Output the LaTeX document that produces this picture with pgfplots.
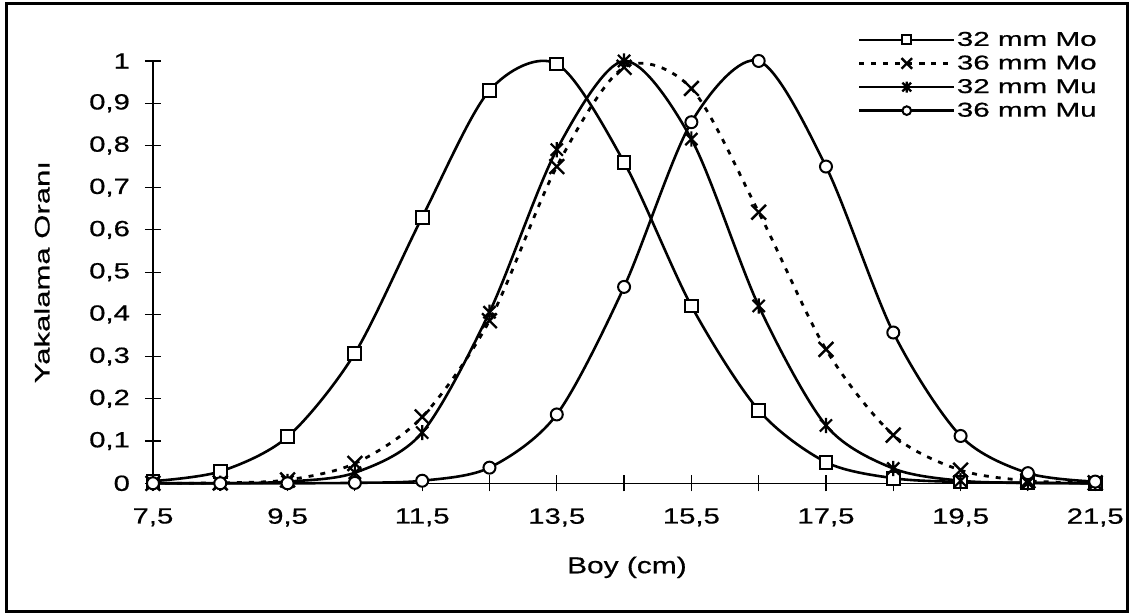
\documentclass[border=0pt]{standalone}
\usepackage{fontspec}
\usepackage{graphicx}
\setmainfont{Liberation Sans}
\newfontfamily\tickfont[FakeStretch=1.33, FakeBold=0.6]{Liberation Sans}
\newfontfamily\labfont[FakeStretch=1.3, FakeBold=0.6]{Liberation Sans}
\newfontfamily\ylabfont[FakeStretch=1.48, FakeBold=0.6]{Liberation Sans}
\newfontfamily\legbase[FakeBold=0.6]{Liberation Sans}
\newcommand{\legtxt}[1]{\scalebox{1.48}[1]{#1}}
\usepackage{pgfplots}
\pgfplotsset{compat=1.18}
\pgfdeclareplotmark{xstar}{%
  \pgfpathmoveto{\pgfqpoint{0pt}{\pgfplotmarksize}}%
  \pgfpathlineto{\pgfqpoint{0pt}{-\pgfplotmarksize}}%
  \pgfpathmoveto{\pgfqpoint{-.8\pgfplotmarksize}{-.8\pgfplotmarksize}}%
  \pgfpathlineto{\pgfqpoint{.8\pgfplotmarksize}{.8\pgfplotmarksize}}%
  \pgfpathmoveto{\pgfqpoint{-.8\pgfplotmarksize}{.8\pgfplotmarksize}}%
  \pgfpathlineto{\pgfqpoint{.8\pgfplotmarksize}{-.8\pgfplotmarksize}}%
  \pgfusepathqstroke}
\begin{document}
\begin{tikzpicture}
\begin{axis}[
  x=33.65pt, y=211.15pt,
  xmin=7.5, xmax=21.5, ymin=0, ymax=1,
  axis x line=bottom, axis y line=left,
  axis line style={-, line width=0.6pt},
  clip=false,
  tick align=center, major tick length=8pt,
  tick style={black, line width=0.6pt},
  xtick={7.5,8.5,9.5,10.5,11.5,12.5,13.5,14.5,15.5,16.5,17.5,18.5,19.5,20.5,21.5},
  xticklabels={{7,5},{},{9,5},{},{11,5},{},{13,5},{},{15,5},{},{17,5},{},{19,5},{},{21,5}},
  ytick={0,0.1,0.2,0.3,0.4,0.5,0.6,0.7,0.8,0.9,1},
  yticklabels={{0},{0,1},{0,2},{0,3},{0,4},{0,5},{0,6},{0,7},{0,8},{0,9},{1}},
  ticklabel style={font=\tickfont\fontsize{11}{13}\selectfont},
  xticklabel style={yshift=-5pt},
  yticklabel style={xshift=-4pt},
  xlabel={Boy (cm)},
  ylabel={Yakalama Oranı},
  xlabel style={at={(axis description cs:0.503,-0.199)}, anchor=center, font=\labfont\fontsize{11.5}{13}\selectfont},
  ylabel style={at={(axis description cs:-0.1178,0.5)}, anchor=center, font=\ylabfont\fontsize{10.5}{12}\selectfont},
  legend cell align=left,
  legend style={draw=none, fill=none, at={(axis cs:21.635,1.087)}, anchor=north east,
    font=\legbase\fontsize{10}{12}\selectfont,
    nodes={inner sep=0.6pt, text height=8pt, text depth=2pt},
    row sep=0.6pt,
    legend image code/.code={\draw[#1, /tikz/every mark/.append style={scale=0.72}, mark repeat=2, mark phase=2] plot coordinates {(0pt,0pt) (23.75pt,0pt) (47.5pt,0pt)};}},
  every axis plot/.append style={smooth, tension=0.5, black, line width=1.3pt},
]
\addplot[mark=square*, mark size=3.2pt, mark options={solid, fill=white, line width=1pt}] coordinates {
(7.5,0.005) (8.5,0.028) (9.5,0.11) (10.5,0.308) (11.5,0.63) (12.5,0.93) (13.5,0.993) (14.5,0.76) (15.5,0.42) (16.5,0.173) (17.5,0.05) (18.5,0.012) (19.5,0.003) (20.5,0.001) (21.5,0)};
\addlegendentry{\legtxt{32 mm Mo}}
\addplot[dash pattern=on 2.5pt off 3.5pt, line width=1.4pt, mark=x, mark size=5.2pt, mark options={solid, line width=1.2pt}] coordinates {
(7.5,0) (8.5,0.001) (9.5,0.008) (10.5,0.047) (11.5,0.157) (12.5,0.385) (13.5,0.75) (14.5,0.985) (15.5,0.935) (16.5,0.642) (17.5,0.317) (18.5,0.114) (19.5,0.031) (20.5,0.006) (21.5,0.001)};
\addlegendentry{\legtxt{36 mm Mo}}
\addplot[mark=xstar, mark size=3.8pt, mark options={solid, line width=1.1pt}] coordinates {
(7.5,0) (8.5,0) (9.5,0.004) (10.5,0.025) (11.5,0.12) (12.5,0.405) (13.5,0.79) (14.5,1.0) (15.5,0.815) (16.5,0.42) (17.5,0.137) (18.5,0.035) (19.5,0.006) (20.5,0.001) (21.5,0)};
\addlegendentry{\legtxt{32 mm Mu}}
\addplot[mark=*, mark size=3pt, mark options={solid, fill=white, line width=1pt}] coordinates {
(7.5,0) (8.5,0) (9.5,0) (10.5,0.001) (11.5,0.006) (12.5,0.037) (13.5,0.163) (14.5,0.465) (15.5,0.855) (16.5,1.0) (17.5,0.75) (18.5,0.357) (19.5,0.112) (20.5,0.024) (21.5,0.004)};
\addlegendentry{\legtxt{36 mm Mu}}
\draw[line width=1.5pt] (axis cs:5.331,-0.3036) rectangle (axis cs:21.973,1.135);
\path (axis cs:5.227,-0.3095) rectangle (axis cs:22.047,1.1444);
\end{axis}
\end{tikzpicture}
\end{document}
